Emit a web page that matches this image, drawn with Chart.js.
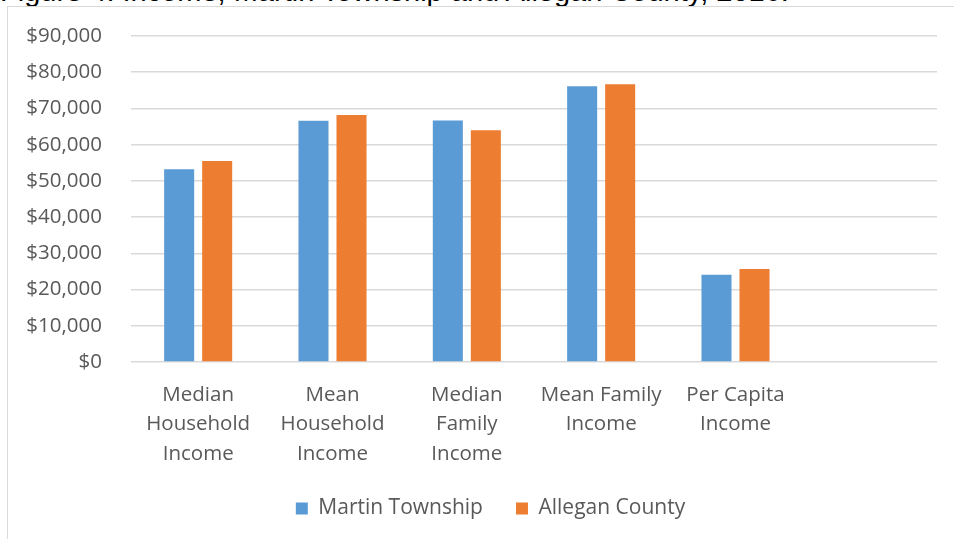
<!DOCTYPE html>
<html>
<head>
<meta charset="utf-8">
<script src="https://cdn.jsdelivr.net/npm/chart.js@4.4.0/dist/chart.umd.min.js"></script>
<style>
  html, body { margin: 0; padding: 0; background: #fff; overflow: hidden; }
  #title {
    position: absolute; left: 0; top: -22.6px;
    font: 29px "Liberation Sans", Arial, sans-serif; line-height: 29px;
    color: #000; white-space: nowrap;
  }
  #frame {
    position: absolute; left: 7px; top: 6px; width: 1000px; height: 600px;
    border: 1.5px solid #d9d9d9; box-sizing: border-box;
  }
  #wrap { position: absolute; left: 0; top: 0; width: 954px; height: 539px; }
</style>
</head>
<body>
<div id="title">Figure 4: Income, Martin Township and Allegan County, 2016.</div>
<div id="frame"></div>
<div id="wrap"><canvas id="chart"></canvas></div>
<script>
// categories (last slot is empty in the original)
const categories = [
  ['Median', 'Household', 'Income'],
  ['Mean', 'Household', 'Income'],
  ['Median', 'Family', 'Income'],
  ['Mean Family', 'Income'],
  ['Per Capita', 'Income'],
  ''
];

const martinTownship = [53200, 66600, 66700, 76100, 24100, null];
const alleganCounty  = [55500, 68200, 64000, 76700, 25700, null];

const yTicks = [0, 10000, 20000, 30000, 40000, 50000, 60000, 70000, 80000, 90000];

const FONT = '"Open Sans", "Noto Sans", sans-serif';

// legend in the original sits a bit right of the plot centre
const shiftLegend = {
  id: 'shiftLegend',
  afterLayout(chart) {
    chart.legend.left += 22;
    chart.legend.right += 22;
  }
};

new Chart(document.getElementById('chart'), {
  type: 'bar',
  data: {
    labels: categories,
    datasets: [{
      label: 'Martin Township',
      data: martinTownship,
      backgroundColor: '#5b9bd5',
      categoryPercentage: 0.566,
      barPercentage: 0.79
    }, {
      label: 'Allegan County',
      data: alleganCounty,
      backgroundColor: '#ed7d31',
      categoryPercentage: 0.566,
      barPercentage: 0.79
    }]
  },
  options: {
    responsive: true,
    maintainAspectRatio: false,
    animation: false,
    layout: { padding: { left: 0, right: 17, top: 36, bottom: 10 } },
    plugins: {
      legend: {
        position: 'bottom',
        labels: {
          boxWidth: 12, boxHeight: 12, padding: 33,
          color: '#595959',
          font: { family: FONT, size: 21 }
        }
      },
      tooltip: { enabled: false }
    },
    scales: {
      x: {
        grid: { display: false },
        border: { display: false },
        ticks: {
          color: '#595959', padding: 10, maxRotation: 0, autoSkip: false,
          font: { family: FONT, size: 20.5, lineHeight: 1.44 }
        },
        afterFit: s => { s.height = 103; s.paddingTop = 0; s.paddingBottom = 0; }
      },
      y: {
        min: 0, max: 90000,
        afterBuildTicks: s => { s.ticks = yTicks.map(v => ({ value: v })); },
        grid: { color: '#d9d9d9', lineWidth: 1.5, drawTicks: false },
        border: { display: false },
        ticks: {
          color: '#595959', padding: 29,
          font: { family: FONT, size: 20.5 },
          callback: v => '$' + v.toLocaleString('en-US')
        },
        afterFit: s => { s.width = 131; s.paddingTop = 0; s.paddingBottom = 0; }
      }
    }
  },
  plugins: [shiftLegend]
});
</script>
</body>
</html>
